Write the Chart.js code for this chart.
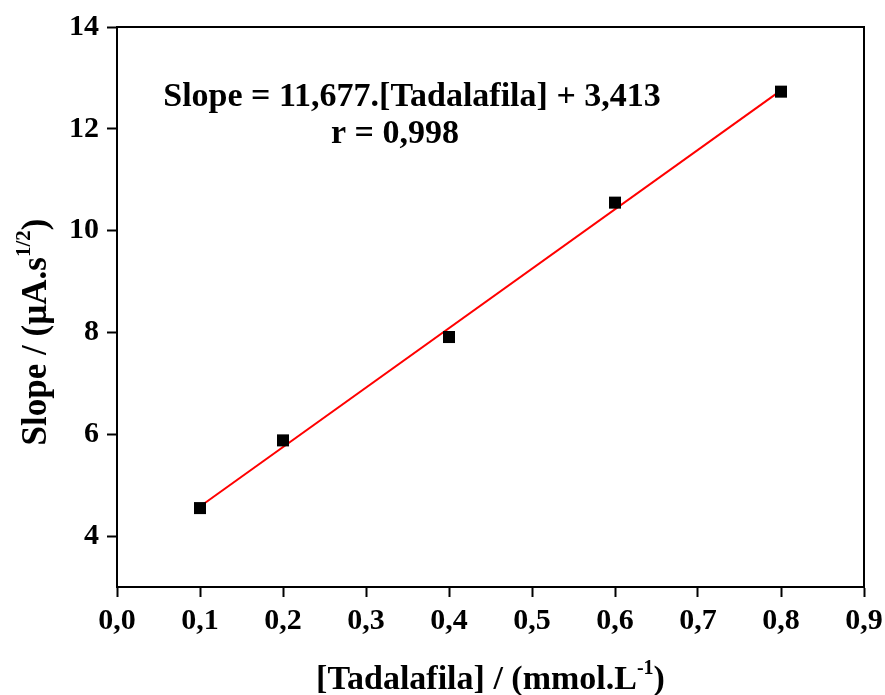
<!DOCTYPE html>
<html lang="pt">
<head>
    <meta charset="UTF-8">
    <title>Slope vs Tadalafila</title>
    <script src="https://cdn.jsdelivr.net/npm/chart.js"></script>
    <style>
        body { margin: 0; background: #fff; }
        #wrap { width: 885px; height: 695px; }
    </style>
</head>
<body>
<div id="wrap"><canvas id="myChart"></canvas></div>

<script>
    // values
    const concentrations = [0.1, 0.2, 0.4, 0.6, 0.8];
    const slopes = [4.55, 5.88, 7.91, 10.55, 12.73];
    const fitX = [0.1, 0.8];
    const fitSlope = 11.677;
    const fitIntercept = 3.413;
    const xTicks = [0, 0.1, 0.2, 0.3, 0.4, 0.5, 0.6, 0.7, 0.8, 0.9];
    const yTicks = [4, 6, 8, 10, 12, 14];

    const font = 'Liberation Serif, Times New Roman, serif';

    const points = concentrations.map((c, i) => ({x: c, y: slopes[i]}));
    const fitLine = fitX.map(x => ({x: x, y: fitSlope * x + fitIntercept}));

    // text with a superscript piece, centred on cx (in current transform)
    function supText(ctx, parts, cx, y, big, small, rise) {
        const widths = parts.map((p, i) => {
            ctx.font = 'bold ' + (i === 1 ? small : big) + 'px ' + font;
            return ctx.measureText(p).width;
        });
        let x = cx - widths.reduce((s, w) => s + w, 0) / 2;
        parts.forEach((p, i) => {
            ctx.font = 'bold ' + (i === 1 ? small : big) + 'px ' + font;
            ctx.fillText(p, x, i === 1 ? y - rise : y);
            x += widths[i];
        });
    }

    // draws the frame, axis titles with superscripts and the fit equation
    const decorations = {
        id: 'decorations',
        afterDraw(chart) {
            const ctx = chart.ctx;
            const a = chart.chartArea;
            ctx.save();
            ctx.strokeStyle = '#000';
            ctx.lineWidth = 2;
            ctx.strokeRect(a.left, a.top, a.right - a.left, a.bottom - a.top);

            ctx.fillStyle = '#000';
            ctx.textBaseline = 'alphabetic';

            // equation text
            ctx.font = 'bold 34px ' + font;
            ctx.textAlign = 'center';
            ctx.fillText('Slope = 11,677.[Tadalafila] + 3,413', 412, 106);
            ctx.fillText('r = 0,998', 395, 143);

            ctx.textAlign = 'left';
            // x axis title
            supText(ctx, ['[Tadalafila] / (mmol.L', '-1', ')'], (a.left + a.right) / 2, 689, 34, 20, 15);

            // y axis title (rotated)
            ctx.translate(46, 332);
            ctx.rotate(-Math.PI / 2);
            supText(ctx, ['Slope / (\u00b5A.s', '1/2', ')'], 0, 0, 35, 21, 16);
            ctx.restore();
        }
    };

    const ctx = document.getElementById('myChart').getContext('2d');
    new Chart(ctx, {
        type: 'scatter',
        data: {
            datasets: [{
                label: 'Fit',
                data: fitLine,
                showLine: true,
                borderColor: '#ff0000',
                borderWidth: 2,
                pointRadius: 0,
                order: 2
            }, {
                label: 'Slope',
                data: points,
                pointStyle: 'rect',
                pointRadius: 8.5,
                backgroundColor: '#000',
                borderColor: '#000',
                borderWidth: 0,
                order: 1
            }]
        },
        options: {
            responsive: true,
            maintainAspectRatio: false,
            animation: false,
            layout: {padding: {top: 27, right: 21, left: 0, bottom: 0}},
            plugins: {
                legend: {display: false},
                tooltip: {enabled: false}
            },
            scales: {
                x: {
                    type: 'linear',
                    min: 0,
                    max: 0.9,
                    afterBuildTicks: s => { s.ticks = xTicks.map(v => ({value: v})); },
                    afterFit: s => { s.height = 108; s.paddingLeft = 0; s.paddingRight = 0; },
                    grid: {drawOnChartArea: false, tickLength: 10, tickColor: '#000', tickWidth: 2},
                    border: {color: '#000', width: 2},
                    ticks: {
                        color: '#000',
                        padding: 6,
                        font: {family: font, size: 30, weight: 'bold'},
                        callback: v => v.toFixed(1).replace('.', ',')
                    }
                },
                y: {
                    min: 3,
                    max: 14,
                    afterBuildTicks: s => { s.ticks = yTicks.map(v => ({value: v})); },
                    afterFit: s => { s.width = 117; s.paddingTop = 0; s.paddingBottom = 0; },
                    grid: {drawOnChartArea: false, tickLength: 10, tickColor: '#000', tickWidth: 2},
                    border: {color: '#000', width: 2},
                    ticks: {
                        color: '#000',
                        padding: 8,
                        font: {family: font, size: 30, weight: 'bold'}
                    }
                }
            }
        },
        plugins: [decorations]
    });
</script>
</body>
</html>
